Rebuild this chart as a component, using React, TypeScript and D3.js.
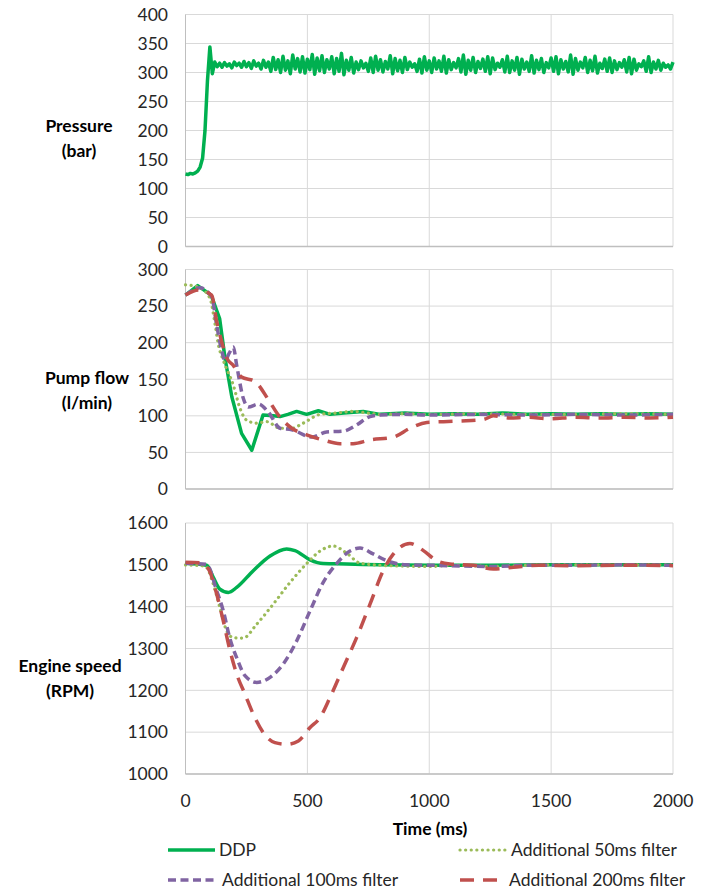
import * as d3 from "d3";

type Pt = [number, number];

// time axis (ms)
const timeTicks = [0, 500, 1000, 1500, 2000];
const pressureTicks = [0, 50, 100, 150, 200, 250, 300, 350, 400];
const flowTicks = [0, 50, 100, 150, 200, 250, 300];
const speedTicks = [1000, 1100, 1200, 1300, 1400, 1500, 1600];

// pressure (bar), one sample every 10 ms from 0 to 2000 ms
const pressureStep = 10;
const pressureDDP = [
  125, 124, 126, 125, 127, 130, 137, 152, 200, 285, 344, 298, 318,
  310, 316, 309, 317, 311, 315, 308, 318, 312, 316, 309, 319, 310, 317, 307, 320, 311, 316, 306, 321, 309, 318,
  302, 326, 305, 322, 300, 328, 304, 320, 298, 330, 306, 324, 301, 327, 299, 323, 305, 331, 297, 325, 303, 329,
  300, 322, 306, 327, 298, 324, 302, 333, 296, 321, 304, 326, 299, 318,
  305, 320, 308, 316, 302, 325, 300, 328, 304, 322, 301, 319, 306, 329, 298, 324, 303, 321, 300, 326, 305, 318,
  309, 315, 302, 323, 299, 327, 304, 320,
  300, 325, 306, 320, 302, 328, 299, 322, 305, 317, 308, 324, 301, 330, 297, 321, 304, 326, 300, 319, 307, 323,
  302, 327, 298, 325, 305, 316, 309, 322, 301, 328, 300, 320, 304, 326, 297, 323, 306, 318, 302, 329, 299, 321,
  305, 324, 300, 317, 308, 325,
  302, 327, 298, 322, 306, 319, 301, 330, 297, 324, 304, 318, 308, 326, 300, 321, 303, 328, 299, 316, 307, 323,
  302, 325, 300, 320, 305, 317, 309, 322, 301, 326, 298, 323, 304, 315, 310, 320, 302, 327, 300, 318, 306, 321,
  304, 316, 309, 313, 306, 318,
];

// pump flow (l/min)
const flowDDP: Pt[] = [
  [0, 265], [50, 278], [105, 265], [140, 233], [162, 179], [190, 126], [230, 76], [272, 53],
  [318, 101], [360, 100], [388, 99], [420, 102], [456, 106], [497, 102], [545, 107], [593, 102],
  [650, 104], [729, 106], [798, 102], [900, 104], [1000, 102], [1100, 103], [1200, 102], [1300, 104],
  [1400, 102], [1500, 103], [1600, 102], [1700, 103], [1800, 102], [1900, 103], [2000, 102],
];
const flow50: Pt[] = [
  [0, 279], [53, 276], [100, 261], [121, 226], [135, 197], [155, 176], [196, 142], [224, 110],
  [251, 94], [292, 90], [333, 92], [388, 83], [436, 83], [483, 90], [552, 102], [620, 104],
  [688, 106], [743, 104], [800, 102], [900, 103], [1000, 102], [1200, 103], [1400, 102],
  [1600, 102], [1800, 103], [2000, 102],
];
const flow100: Pt[] = [
  [0, 265], [59, 275], [107, 263], [128, 224], [148, 190], [162, 176], [180, 186], [196, 194],
  [210, 169], [237, 124], [258, 112], [299, 116], [340, 105], [388, 83], [436, 81], [518, 71],
  [579, 78], [647, 79], [700, 87], [757, 99], [800, 101], [900, 102], [1000, 101], [1200, 102],
  [1400, 101], [1600, 102], [1800, 101], [2000, 102],
];
const flow200: Pt[] = [
  [0, 265], [53, 272], [107, 265], [128, 229], [148, 202], [169, 179], [196, 169], [230, 153],
  [285, 147], [340, 122], [381, 101], [436, 83], [497, 74], [565, 67], [634, 62], [688, 62],
  [757, 67], [853, 71], [921, 83], [990, 91], [1058, 92], [1126, 93], [1222, 95], [1263, 100],
  [1331, 97], [1400, 98], [1495, 96], [1600, 98], [1700, 97], [1800, 98], [1900, 97], [2000, 98],
];

// engine speed (RPM)
const speedDDP: Pt[] = [
  [0, 1504], [87, 1499], [114, 1470], [141, 1442], [176, 1434], [210, 1446], [278, 1486],
  [347, 1521], [415, 1538], [449, 1534], [511, 1512], [565, 1503], [661, 1502], [798, 1500],
  [1000, 1499], [1250, 1499], [1500, 1500], [1750, 1500], [2000, 1500],
];
const speed50: Pt[] = [
  [0, 1500], [80, 1497], [114, 1454], [141, 1398], [169, 1342], [196, 1326], [237, 1325],
  [292, 1358], [360, 1406], [429, 1458], [497, 1503], [552, 1533], [606, 1545], [661, 1528],
  [716, 1504], [798, 1499], [900, 1497], [1000, 1496], [1100, 1499], [1263, 1496], [1400, 1499],
  [1600, 1500], [1800, 1500], [2000, 1500],
];
const speed100: Pt[] = [
  [0, 1504], [87, 1501], [128, 1438], [155, 1390], [183, 1322], [210, 1278], [244, 1235],
  [292, 1219], [347, 1231], [401, 1263], [456, 1318], [511, 1390], [565, 1458], [620, 1503],
  [675, 1533], [716, 1540], [770, 1526], [825, 1510], [907, 1500], [1000, 1499], [1263, 1496],
  [1400, 1499], [1600, 1499], [1800, 1500], [2000, 1499],
];
const speed200: Pt[] = [
  [0, 1506], [59, 1505], [94, 1490], [128, 1430], [155, 1366], [183, 1294], [210, 1239],
  [244, 1191], [278, 1143], [319, 1099], [367, 1075], [415, 1071], [463, 1079], [511, 1111],
  [552, 1135], [593, 1183], [647, 1254], [702, 1326], [757, 1406], [811, 1486], [853, 1526],
  [921, 1551], [976, 1534], [1030, 1510], [1085, 1502], [1181, 1499], [1263, 1490],
  [1345, 1494], [1450, 1499], [1600, 1498], [1800, 1499], [2000, 1498],
];

const seriesNames = ["DDP", "Additional 50ms filter", "Additional 100ms filter", "Additional 200ms filter"];

const styles = [
  { color: "#00B050", dash: undefined as string | undefined, width: 3.5, cap: "butt" },
  { color: "#9BBB59", dash: "0.1 5.5", width: 3.2, cap: "round" },
  { color: "#8064A2", dash: "8 4.5", width: 3.5, cap: "butt" },
  { color: "#C0504D", dash: "14 9", width: 3.5, cap: "butt" },
];

const FONT = "Lato, 'Open Sans', sans-serif";
const left = 185.5;
const right = 673;

const x = d3.scaleLinear().domain([0, 2000]).range([left, right]);

interface PanelProps {
  top: number;
  bottom: number;
  domain: [number, number];
  ticks: number[];
  label: string[];
  labelX: number;
  labelY: number;
  lines: { data: Pt[]; style: number; curve: d3.CurveFactory }[];
}

function Panel({ top, bottom, domain, ticks, label, labelX, labelY, lines }: PanelProps) {
  const y = d3.scaleLinear().domain(domain).range([bottom, top]);
  return (
    <g>
      {ticks.map((t) => (
        <line key={"h" + t} x1={left} x2={right} y1={y(t)} y2={y(t)} stroke="#D9D9D9" strokeWidth={1} />
      ))}
      {timeTicks.map((t) => (
        <line key={"v" + t} x1={x(t)} x2={x(t)} y1={top} y2={bottom} stroke="#D9D9D9" strokeWidth={1} />
      ))}
      <line x1={left} x2={left} y1={top} y2={bottom} stroke="#BFBFBF" strokeWidth={1} />
      <line x1={left} x2={right} y1={bottom} y2={bottom} stroke="#BFBFBF" strokeWidth={1.3} />
      {ticks.map((t) => (
        <text key={"t" + t} x={168} y={y(t)} dy="0.36em" textAnchor="end" fontSize={17.5} fill="#262626">
          {t}
        </text>
      ))}
      <text x={labelX} y={labelY} textAnchor="middle" fontSize={17.5} fontWeight="bold" fill="#000">
        {label.map((l, i) => (
          <tspan key={i} x={labelX} dy={i === 0 ? 0 : 24.5}>
            {l}
          </tspan>
        ))}
      </text>
      {lines.map((ln, i) => {
        const s = styles[ln.style];
        const path = d3
          .line<Pt>()
          .x((d) => x(d[0]))
          .y((d) => y(d[1]))
          .curve(ln.curve)(ln.data);
        return (
          <path
            key={i}
            d={path || undefined}
            fill="none"
            stroke={s.color}
            strokeWidth={s.width}
            strokeDasharray={s.dash}
            strokeLinecap={s.cap as "butt" | "round"}
            strokeLinejoin="round"
          />
        );
      })}
    </g>
  );
}

export default function App() {
  const pressureData: Pt[] = pressureDDP.map((v, i) => [i * pressureStep, v]);
  const legend = [
    { name: seriesNames[0], style: 0, x: 168, y: 850, len: 47 },
    { name: seriesNames[1], style: 1, x: 460, y: 850, len: 47 },
    { name: seriesNames[2], style: 2, x: 168, y: 880, len: 50 },
    { name: seriesNames[3], style: 3, x: 460, y: 880, len: 45 },
  ];
  return (
    <svg
      width={710}
      height={892}
      style={{ position: "absolute", left: 0, top: 0, background: "#fff" }}
      fontFamily={FONT}
    >
      <Panel
        top={14.5}
        bottom={246.5}
        domain={[0, 400]}
        ticks={pressureTicks}
        label={["Pressure", "(bar)"]}
        labelX={79}
        labelY={132}
        lines={[{ data: pressureData, style: 0, curve: d3.curveLinear }]}
      />
      <Panel
        top={269.5}
        bottom={489}
        domain={[0, 300]}
        ticks={flowTicks}
        label={["Pump flow", "(l/min)"]}
        labelX={87}
        labelY={384}
        lines={[
          { data: flowDDP, style: 0, curve: d3.curveLinear },
          { data: flow50, style: 1, curve: d3.curveMonotoneX },
          { data: flow100, style: 2, curve: d3.curveMonotoneX },
          { data: flow200, style: 3, curve: d3.curveMonotoneX },
        ]}
      />
      <Panel
        top={523}
        bottom={774}
        domain={[1000, 1600]}
        ticks={speedTicks}
        label={["Engine speed", "(RPM)"]}
        labelX={70}
        labelY={672}
        lines={[
          { data: speedDDP, style: 0, curve: d3.curveMonotoneX },
          { data: speed50, style: 1, curve: d3.curveMonotoneX },
          { data: speed100, style: 2, curve: d3.curveMonotoneX },
          { data: speed200, style: 3, curve: d3.curveMonotoneX },
        ]}
      />
      {timeTicks.map((t) => (
        <text key={t} x={x(t)} y={801} dy="0.36em" textAnchor="middle" fontSize={17.5} fill="#262626">
          {t}
        </text>
      ))}
      <text x={430} y={829} dy="0.36em" textAnchor="middle" fontSize={17.5} fontWeight="bold" fill="#000">
        Time (ms)
      </text>
      {legend.map((l) => {
        const s = styles[l.style];
        return (
          <g key={l.name}>
            <line
              x1={l.x}
              x2={l.x + l.len}
              y1={l.y}
              y2={l.y}
              stroke={s.color}
              strokeWidth={s.width}
              strokeDasharray={s.dash}
              strokeLinecap={s.cap as "butt" | "round"}
            />
            <text x={l.x + l.len + 4} y={l.y} dy="0.36em" fontSize={17.5} fill="#262626">
              {l.name}
            </text>
          </g>
        );
      })}
    </svg>
  );
}
